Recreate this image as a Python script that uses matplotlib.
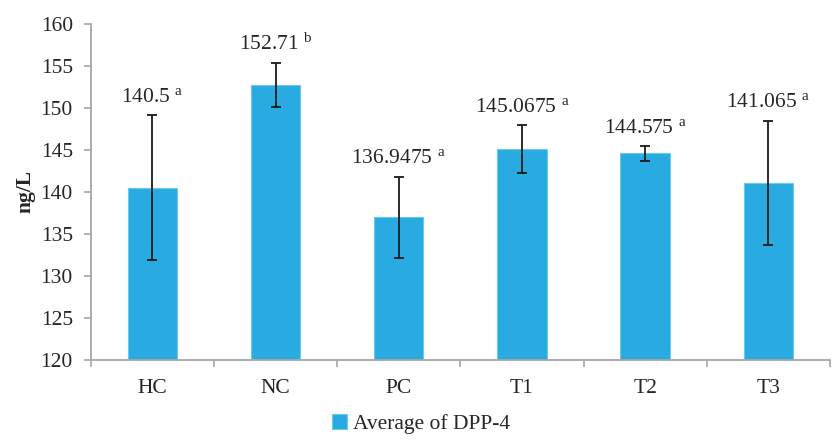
import matplotlib
matplotlib.use('Agg')
import matplotlib.pyplot as plt
import numpy as np

# group means, error half-widths and significance letters
groups = ['HC', 'NC', 'PC', 'T1', 'T2', 'T3']
means = [140.5, 152.71, 136.9475, 145.0675, 144.575, 141.065]
errs = [8.65, 2.6, 4.85, 2.85, 0.9, 7.4]
letters = ['a', 'b', 'a', 'a', 'a', 'a']
value_text = ['140.5', '152.71', '136.9475', '145.0675', '144.575', '141.065']

plt.rcParams['font.family'] = ['Liberation Serif', 'DejaVu Serif']
plt.rcParams['mathtext.fontset'] = 'custom'
plt.rcParams['mathtext.rm'] = 'Liberation Serif'
plt.rcParams['mathtext.it'] = 'Liberation Serif'

txt_col = '#262626'
axis_col = '#a6a6a6'
bar_col = '#29abe2'
fs = 15.5

fig = plt.figure(figsize=(8.34, 4.41), dpi=100)
ax = fig.add_axes([0.109, 0.184, 0.886, 0.762])

x = np.arange(len(groups))
ax.bar(x, means, width=0.4, color=bar_col, edgecolor='#6cc8ef', linewidth=0.8,
       label='Average of DPP-4', zorder=2)
ax.errorbar(x, means, yerr=errs, fmt='none', ecolor='#1a1a1a', elinewidth=1.3,
            capsize=3.4, capthick=1.3, zorder=3)

for xi, m, e, v, l in zip(x, means, errs, value_text, letters):
    ax.annotate(v + r' $^{\mathrm{' + l + '}}$', (xi, m + e), xytext=(0, 6),
                textcoords='offset points', ha='center', va='bottom',
                fontsize=fs, color=txt_col)

ax.set_ylim(120, 160)
ax.set_yticks(range(120, 161, 5))
ax.set_xlim(-0.5, len(groups) - 0.5)
ax.set_xticks(x)
ax.set_xticklabels(groups)
ax.set_xticks(np.arange(-0.5, len(groups), 1.0), minor=True)

ax.tick_params(axis='x', which='major', length=0, pad=14, labelsize=fs, labelcolor=txt_col)
ax.tick_params(axis='x', which='minor', length=5, width=1.2, color=axis_col, direction='out')
ax.tick_params(axis='y', length=5, width=1.2, color=axis_col, pad=8, labelsize=fs,
               labelcolor=txt_col)

for side in ['top', 'right']:
    ax.spines[side].set_visible(False)
for side in ['left', 'bottom']:
    ax.spines[side].set_color(axis_col)
    ax.spines[side].set_linewidth(1.3)

ax.set_ylabel('ng/L', fontsize=fs, fontweight='bold', color=txt_col, labelpad=4)

fig.legend(loc='lower center', bbox_to_anchor=(0.505, -0.028), frameon=False,
           fontsize=fs, handlelength=0.7, handleheight=0.7, handletextpad=0.3,
           labelcolor=txt_col)

fig.savefig('out.png', dpi=100)
